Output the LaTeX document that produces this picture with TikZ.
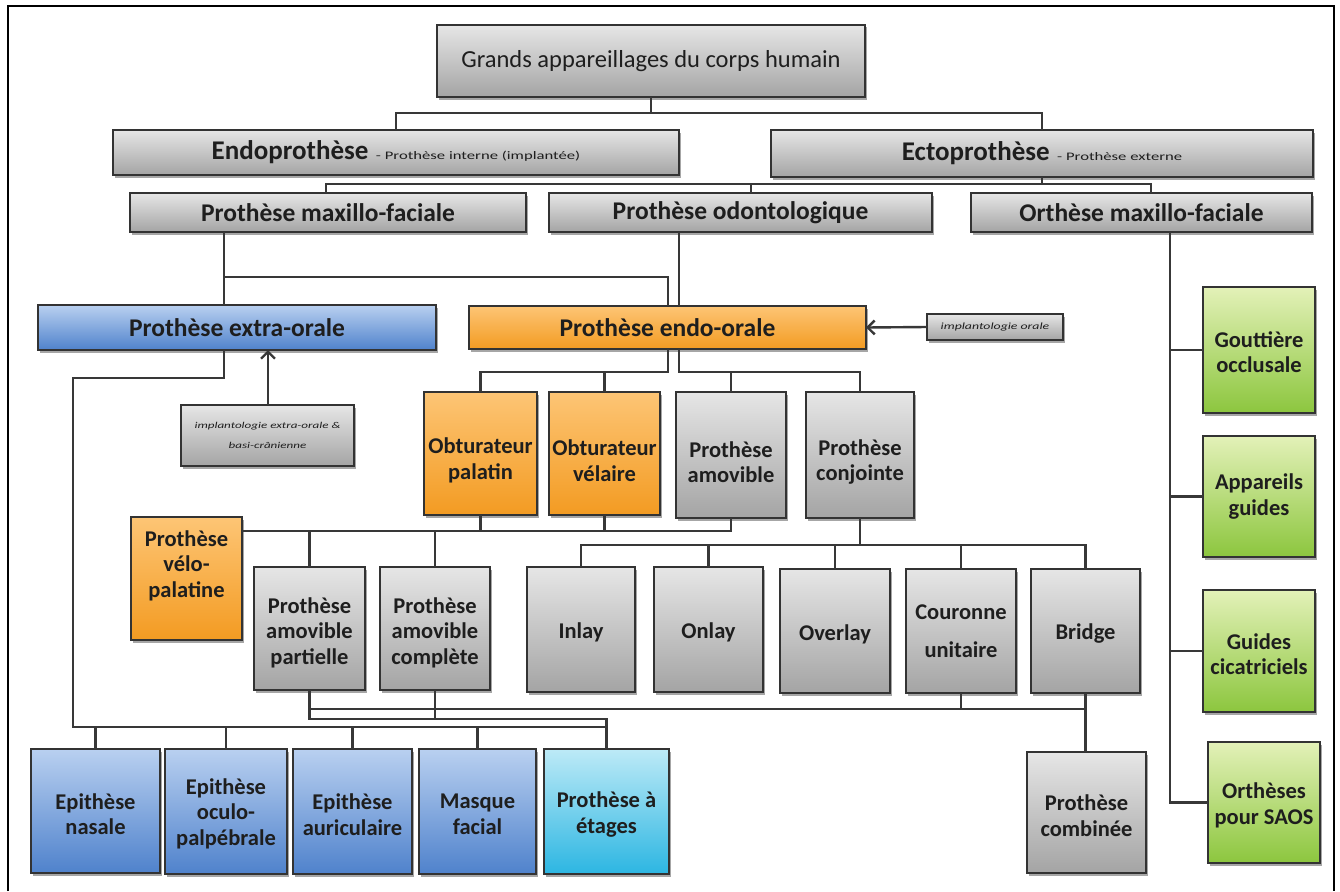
\documentclass[tikz,border=0pt]{standalone}
\usepackage{fontspec}
\setmainfont{Carlito}
\newfontfamily\widefont[FakeStretch=1.45]{Carlito}
\usetikzlibrary{shadows,arrows.meta}
\definecolor{gtop}{HTML}{E6E6E6}
\definecolor{gbot}{HTML}{A4A4A4}
\definecolor{btop}{HTML}{B9D0F0}
\definecolor{bbot}{HTML}{4F82CC}
\definecolor{otop}{HTML}{FDC575}
\definecolor{obot}{HTML}{F39B22}
\definecolor{ctop}{HTML}{BDEAF7}
\definecolor{cbot}{HTML}{2CB6E2}
\definecolor{grtop}{HTML}{E3F1B8}
\definecolor{grbot}{HTML}{8CC63E}
\definecolor{bordc}{HTML}{333333}
\definecolor{linec}{HTML}{383838}
\definecolor{txtc}{HTML}{1E1E1E}
\tikzset{
  boxbase/.style={draw=bordc, line width=1.4pt, inner sep=0pt, outer sep=0pt,
    drop shadow={shadow xshift=2pt, shadow yshift=-2.5pt, opacity=0.35, fill=black}},
  graybox/.style={boxbase, top color=gtop, bottom color=gbot},
  bluebox/.style={boxbase, top color=btop, bottom color=bbot},
  orangebox/.style={boxbase, top color=otop, bottom color=obot},
  cyanbox/.style={boxbase, top color=ctop, bottom color=cbot},
  greenbox/.style={boxbase, top color=grtop, bottom color=grbot},
  lbl/.style={align=center, inner sep=0pt, text=txtc, font=\fontsize{22.5}{25.5}\selectfont\bfseries},
  con/.style={draw=linec, line width=2.4pt},
  arrowcon/.style={con, -{Straight Barb[length=7pt,width=14pt]}},
}
\newcommand\bx[8]{%
  \pgfmathsetmacro\bxw{#5-#3}%
  \pgfmathsetmacro\bxh{#6-#4}%
  \node[#2, minimum width=\bxw pt, minimum height=\bxh pt] (#1) at ({(#3+#5)/2},{(#4+#6)/2}) {};%
  \node[lbl] (#1-t) at ({(#3+#5)/2},{(#4+#6)/2+#7}) {#8};}
\newcommand\bigtxt{\fontsize{25.5}{29}\selectfont}
\newcommand\smit{\widefont\mdseries\itshape\fontsize{9}{13}\selectfont}
\begin{document}
\begin{tikzpicture}[x=1pt,y=-1pt]
\useasboundingbox (0,0) rectangle (1340,891);
\draw[black, line width=1.8pt] (8,891) -- (8,6) -- (1334,6) -- (1334,891);
% level 1-3
\bx{top}{graybox}{437}{25}{865}{97}{0}{\mdseries\fontsize{24.5}{28}\selectfont Grands appareillages du corps humain}
\bx{endo}{graybox}{113}{130}{679}{175}{0}{{\fontsize{27}{30}\selectfont Endoprothèse}\,{\widefont\mdseries\fontsize{11.5}{14}\selectfont{} - Prothèse interne (implantée)}}
\bx{ecto}{graybox}{771}{130}{1313}{177}{0}{{\fontsize{27}{30}\selectfont Ectoprothèse}\,{\widefont\mdseries\fontsize{11.5}{14}\selectfont{} - Prothèse externe}}
\bx{maxf}{graybox}{130}{193}{526}{232}{0}{\bigtxt Prothèse maxillo-faciale}
\bx{odonto}{graybox}{549}{193}{932}{232}{0}{\bigtxt Prothèse odontologique}
\bx{orth}{graybox}{971}{193}{1312}{232}{0}{\bigtxt Orthèse maxillo-faciale}
% level 4
\bx{extra}{bluebox}{38}{305}{436}{350}{0}{\bigtxt Prothèse extra-orale}
\bx{endoor}{orangebox}{469}{306}{866}{349}{0}{\bigtxt Prothèse endo-orale}
\bx{implor}{graybox}{927}{314}{1063}{340}{0}{\widefont\mdseries\itshape\fontsize{9.5}{11}\selectfont implantologie orale}
\bx{implex}{graybox}{181}{405}{354}{466}{0}{\smit implantologie extra-orale \&\\[-6pt]\smit basi-crânienne}
% level 5
\bx{palatin}{orangebox}{424}{392}{537}{515}{7}{Obturateur\\palatin}
\bx{velaire}{orangebox}{549}{392}{660}{515}{7}{Obturateur\\vélaire}
\bx{amov}{graybox}{676}{392}{786}{518}{7}{Prothèse\\amovible}
\bx{conj}{graybox}{806}{392}{914}{518}{7}{Prothèse\\conjointe}
% level 6
\bx{velopal}{orangebox}{131}{517}{242}{640}{-13}{Prothèse\\vélo-\\palatine}
\bx{partielle}{graybox}{254}{567}{365}{690}{4}{Prothèse\\amovible\\partielle}
\bx{complete}{graybox}{380}{567}{490}{690}{4}{Prothèse\\amovible\\complète}
\bx{inlay}{graybox}{527}{567}{635}{692}{3}{Inlay}
\bx{onlay}{graybox}{654}{567}{763}{692}{3}{Onlay}
\bx{overlay}{graybox}{780}{569}{890}{693}{3}{Overlay}
\bx{couronne}{graybox}{906}{569}{1016}{693}{0}{Couronne\\[12pt]unitaire}
\bx{bridge}{graybox}{1031}{569}{1140}{693}{3}{Bridge}
% bottom
\bx{nasale}{bluebox}{31}{749}{160}{873}{3}{Epithèse\\nasale}
\bx{oculo}{bluebox}{165}{749}{287}{874}{2}{Epithèse\\oculo-\\palpébrale}
\bx{auric}{bluebox}{293}{749}{412}{874}{3}{Epithèse\\auriculaire}
\bx{masque}{bluebox}{419}{749}{536}{874}{3}{Masque\\facial}
\bx{etages}{cyanbox}{544}{749}{669}{874}{3}{Prothèse à\\étages}
\bx{combinee}{graybox}{1027}{752}{1146}{873}{3}{Prothèse\\combinée}
% right column
\bx{gout}{greenbox}{1203}{287}{1315}{413}{2}{Gouttière\\occlusale}
\bx{appar}{greenbox}{1203}{436}{1315}{557}{0}{Appareils\\guides}
\bx{guides}{greenbox}{1203}{590}{1315}{712}{3}{Guides\\cicatriciels}
\bx{saos}{greenbox}{1208}{742}{1320}{863}{3}{Orthèses\\pour SAOS}
% connectors
\draw[con] (top.south) -- (top.south |- 0,113) coordinate (bus1);
\draw[con] (endo.north) |- (bus1) -| (ecto.north);
\draw[con] (ecto.south) -- (ecto.south |- 0,184) coordinate (bus2);
\draw[con] (maxf.north -| 326,0) |- (bus2) -| (orth.north -| 1151,0);
\draw[con] (bus2 -| 751,0) -- (odonto.north -| 751,0);
\draw[con] (maxf.south -| 224,0) -- (extra.north -| 224,0);
\draw[con] (extra.north -| 224,0) ++(0,-28) -| (endoor.north -| 668,0);
\draw[con] (odonto.south -| 679,0) -- (endoor.north -| 679,0);
\draw[arrowcon] (implor.west) -- (endoor.east);
\draw[arrowcon] (implex.north -| 268,0) -- (extra.south -| 268,0);
\coordinate (bus6) at (73,727);
\draw[con] (extra.south -| 224,0) -- ++(0,28) -| (bus6) -| (etages.north);
\foreach \n in {nasale,oculo,auric,masque} \draw[con] (\n.north) -- (\n.north |- bus6);
\coordinate (bus7) at (0,372);
\draw[con] (endoor.south -| 668,0) |- (palatin.north |- bus7) -- (palatin.north);
\draw[con] (velaire.north) -- (velaire.north |- bus7);
\draw[con] (endoor.south -| 679,0) |- (conj.north |- bus7) -- (conj.north);
\draw[con] (amov.north) -- (amov.north |- bus7);
\coordinate (bus8) at (0,531);
\draw[con] (velopal.east |- bus8) -- (amov.south |- bus8) -- (amov.south);
\draw[con] (palatin.south) -- (palatin.south |- bus8);
\draw[con] (velaire.south) -- (velaire.south |- bus8);
\draw[con] (partielle.north) -- (partielle.north |- bus8);
\draw[con] (complete.north) -- (complete.north |- bus8);
\coordinate (bus9) at (0,545);
\draw[con] (conj.south) -- (conj.south |- bus9);
\draw[con] (inlay.north) |- (bridge.north |- bus9) -- (bridge.north);
\foreach \n in {onlay,overlay,couronne} \draw[con] (\n.north) -- (\n.north |- bus9);
\coordinate (bus10) at (0,709);
\coordinate (bus11) at (0,719);
\draw[con] (partielle.south) -- (partielle.south |- bus11) -| (etages.north);
\draw[con] (partielle.south |- bus10) -- (bridge.south |- bus10);
\draw[con] (complete.south) -- (complete.south |- bus11);
\draw[con] (couronne.south) -- (couronne.south |- bus10);
\draw[con] (bridge.south) -- (bridge.south |- combinee.north);
\draw[con] (orth.south -| 1170,0) |- (saos.west);
\foreach \n in {gout,appar,guides} \draw[con] (\n.west) -- (\n.west -| 1170,0);
\end{tikzpicture}
\end{document}
